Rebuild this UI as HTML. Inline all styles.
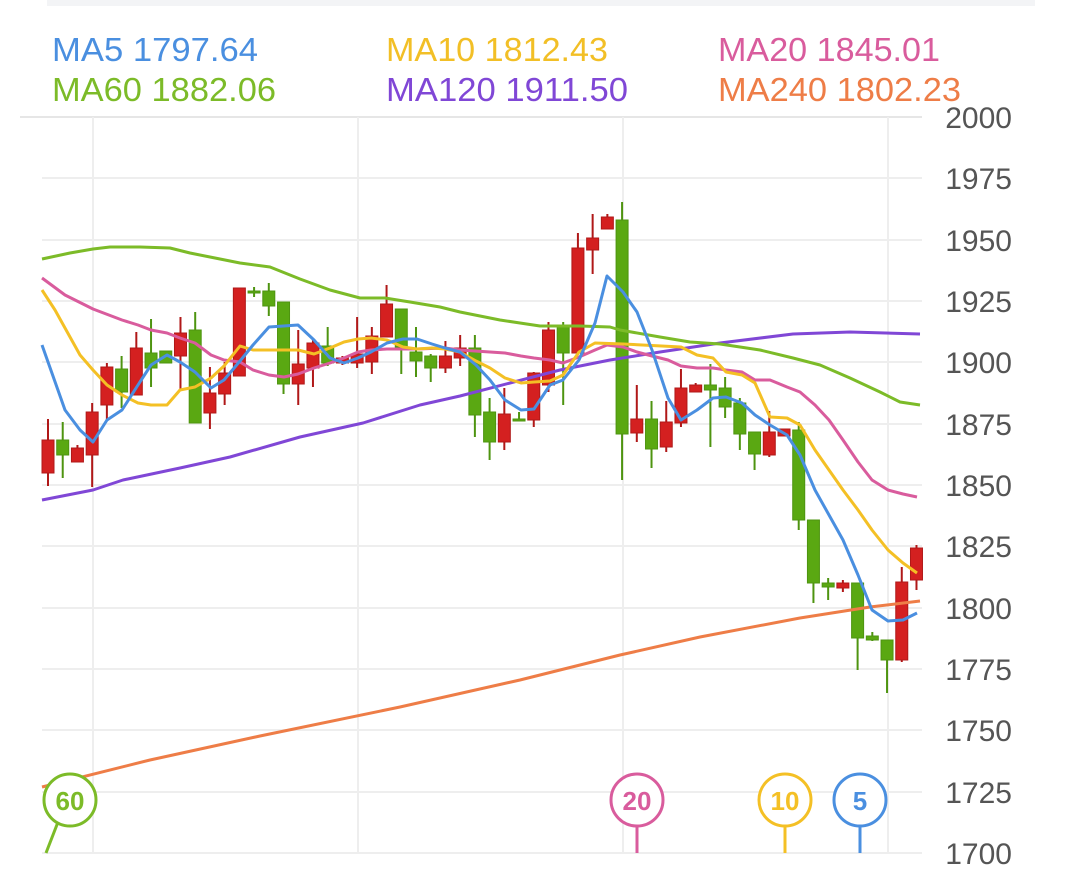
<!DOCTYPE html>
<html><head><meta charset="utf-8"><style>
body{margin:0;background:#fff;width:1080px;height:883px;overflow:hidden;font-family:"Liberation Sans",sans-serif}
</style></head><body>
<svg width="1080" height="883" xmlns="http://www.w3.org/2000/svg" font-family="Liberation Sans, sans-serif">
<rect x="47" y="0" width="988" height="6" fill="#f3f4f6"/>
<g font-size="33">
<text x="52" y="61" fill="#4a8fe0" textLength="206" lengthAdjust="spacingAndGlyphs">MA5 1797.64</text>
<text x="386" y="61" fill="#f2bf26" textLength="222" lengthAdjust="spacingAndGlyphs">MA10 1812.43</text>
<text x="718" y="61" fill="#d95c9d" textLength="222" lengthAdjust="spacingAndGlyphs">MA20 1845.01</text>
<text x="52" y="101" fill="#7cbb28" textLength="224" lengthAdjust="spacingAndGlyphs">MA60 1882.06</text>
<text x="386" y="101" fill="#8047d6" textLength="242" lengthAdjust="spacingAndGlyphs">MA120 1911.50</text>
<text x="718" y="101" fill="#ee7d47" textLength="243" lengthAdjust="spacingAndGlyphs">MA240 1802.23</text>
</g>
<g stroke="#eeeeee" stroke-width="2">
<line x1="20" y1="117" x2="922" y2="117" stroke="#e6e6e6"/>
<line x1="42" y1="178" x2="922" y2="178"/><line x1="42" y1="240" x2="922" y2="240"/>
<line x1="42" y1="301" x2="922" y2="301"/><line x1="42" y1="362" x2="922" y2="362"/>
<line x1="42" y1="424" x2="922" y2="424"/><line x1="42" y1="485" x2="922" y2="485"/>
<line x1="42" y1="546" x2="922" y2="546"/><line x1="42" y1="608" x2="922" y2="608"/>
<line x1="42" y1="669" x2="922" y2="669"/><line x1="42" y1="730" x2="922" y2="730"/>
<line x1="42" y1="792" x2="922" y2="792"/><line x1="42" y1="853" x2="922" y2="853"/>
<line x1="93" y1="117" x2="93" y2="853"/><line x1="358" y1="117" x2="358" y2="853"/>
<line x1="623" y1="117" x2="623" y2="853"/><line x1="888" y1="117" x2="888" y2="853"/>
</g>
<g font-size="30" fill="#555" text-anchor="end">
<text x="1012" y="128">2000</text><text x="1012" y="189">1975</text><text x="1012" y="251">1950</text>
<text x="1012" y="312">1925</text><text x="1012" y="373">1900</text><text x="1012" y="435">1875</text>
<text x="1012" y="496">1850</text><text x="1012" y="557">1825</text><text x="1012" y="619">1800</text>
<text x="1012" y="680">1775</text><text x="1012" y="741">1750</text><text x="1012" y="803">1725</text>
<text x="1012" y="864">1700</text>
</g>
<g id="c"></g>
<g fill="none" stroke-width="3" stroke-linejoin="round">
<polyline stroke="#ee7d47" points="42,787 150,760 260,736 400,707 520,680 620,655 700,637 800,618 870,607 920,601"/>
<polyline stroke="#8047d6" points="42,500 93,490 123,480 180,468 230,457 300,437 363,423 420,405 460,396 510,383 560,370 610,360 660,352 720,343 793,334 850,332 920,334"/>
<polyline stroke="#7cbb28" points="42,259 70,253 93,249 110,247 140,247 170,248 190,253 215,258 240,263 270,267 300,279 330,290 360,298 385,298 410,302 440,307 460,312 480,316 500,320 520,323 540,326 580,326 610,327 620,330 660,337 690,342 720,344 760,350 793,358 820,365 850,378 880,392 900,402 920,405"/>
<polyline stroke="#d95c9d" points="42,278 65,295 93,309 122,320 138,325 151,330 167,333 180,338 195,343 211,355 224,360 240,362 253,370 269,375 284,377 298,374 314,368 330,363 344,358 358,352 371,350 387,349 417,349 445,348 460,350 490,352 505,353 521,356 534,358 550,360 563,363 579,357 595,350 607,345 623,347 637,352 652,356 668,360 681,366 697,368 713,368 726,370 742,372 755,380 770,380 787,387 800,392 815,405 829,420 843,440 858,462 872,480 888,490 903,494 917,497"/>
<polyline stroke="#f4c025" points="42,290 55,310 80,355 93,370 107,385 122,395 138,403 151,405 167,405 180,390 195,387 211,378 224,366 240,346 253,350 298,350 314,354 330,348 344,342 358,339 371,338 387,340 403,347 417,349 432,348 445,349 460,352 476,361 490,368 505,378 521,383 534,382 550,381 563,375 579,352 595,343 623,344 681,347 697,355 713,358 726,372 742,375 755,383 770,417 787,418 800,425 815,450 829,470 843,490 858,510 872,530 888,550 903,563 917,573"/>
<polyline stroke="#4a8fe0" points="42,345 65,410 80,430 93,442 107,420 122,410 138,385 151,365 167,355 180,362 195,372 211,388 224,380 240,361 253,345 269,327 298,325 314,340 330,358 344,363 358,358 371,352 387,343 403,339 417,339 432,344 445,348 460,352 476,365 490,380 505,400 521,410 534,409 550,385 563,380 579,360 595,323 607,276 623,292 637,312 652,350 668,398 681,420 697,410 713,398 726,397 742,403 755,415 770,425 787,435 800,455 815,490 829,515 843,540 858,575 872,610 888,621 903,620 917,613"/>
</g>
<g stroke-width="3" fill="#fff" font-size="26" font-weight="bold" text-anchor="middle">
<line x1="58" y1="822" x2="46" y2="853" stroke="#7cbb28"/>
<circle cx="70" cy="800" r="26" stroke="#7cbb28"/><text x="70" y="810" fill="#7cbb28" stroke="none">60</text>
<line x1="637" y1="826" x2="637" y2="853" stroke="#d95c9d"/>
<circle cx="637" cy="800" r="26" stroke="#d95c9d"/><text x="637" y="810" fill="#d95c9d" stroke="none">20</text>
<line x1="785" y1="826" x2="785" y2="853" stroke="#f4c025"/>
<circle cx="785" cy="800" r="26" stroke="#f4c025"/><text x="785" y="810" fill="#f4c025" stroke="none">10</text>
<line x1="860" y1="826" x2="860" y2="853" stroke="#4a8fe0"/>
<circle cx="860" cy="800" r="26" stroke="#4a8fe0"/><text x="860" y="810" fill="#4a8fe0" stroke="none">5</text>
</g>
</svg>
<script>
var d=[['r',440,473,419,486],['g',440,455,422,478],['r',448,462,445,462],['r',412,455,403,487],['r',367,405,363,420],['g',369,392,356,408],['r',348,395,332,395],['g',353,368,319,387],['g',351,363,351,363],['r',333,356,317,390],['g',330,423,312,423],['r',393,413,367,429],['r',373,394,362,405],['r',288,376,288,376],['g',291,293,287,297],['g',291,306,283,316],['g',302,384,302,394],['r',364,384,330,405],['r',343,368,340,387],['g',346,363,327,366],['r',358,363,356,365],['r',354,363,317,368],['r',336,362,327,374],['r',304,337,285,337],['g',309,347,309,374],['g',352,361,327,377],['g',356,368,354,382],['r',356,368,341,373],['r',348,358,335,366],['g',348,415,335,437],['g',412,442,398,460],['r',414,442,388,450],['g',419,421,412,421],['r',373,420,372,427],['r',330,385,322,392],['g',327,353,322,405],['r',248,353,233,355],['r',238,250,214,274],['r',217,229,214,229],['g',220,434,202,480],['r',419,433,385,442],['g',419,449,401,468],['r',422,447,401,452],['r',388,423,369,427],['r',385,392,383,392],['g',385,390,364,447],['g',388,407,377,418],['g',403,434,398,450],['g',432,454,432,470],['r',432,455,411,457],['r',429,436,429,436],['g',430,520,422,530],['g',520,583,520,603],['g',583,587,578,600],['r',583,588,580,592],['g',583,638,583,670],['g',636,640,632,641],['g',640,660,640,693],['r',582,660,567,662],['r',548,580,545,590]];
var s='';d.forEach(function(c,i){var x=48+i*14.72;var f=c[0]=='r'?'#d42020':'#5aa812',st=c[0]=='r'?'#b01818':'#4e9410';
s+='<line x1="'+x+'" y1="'+c[3]+'" x2="'+x+'" y2="'+c[4]+'" stroke="'+st+'" stroke-width="2"/>';
var h=Math.max(c[2]-c[1],2);s+='<rect x="'+(x-6)+'" y="'+c[1]+'" width="12" height="'+h+'" fill="'+f+'" stroke="'+st+'" stroke-width="1"/>';});
document.getElementById('c').innerHTML=s;
</script>
</body></html>
